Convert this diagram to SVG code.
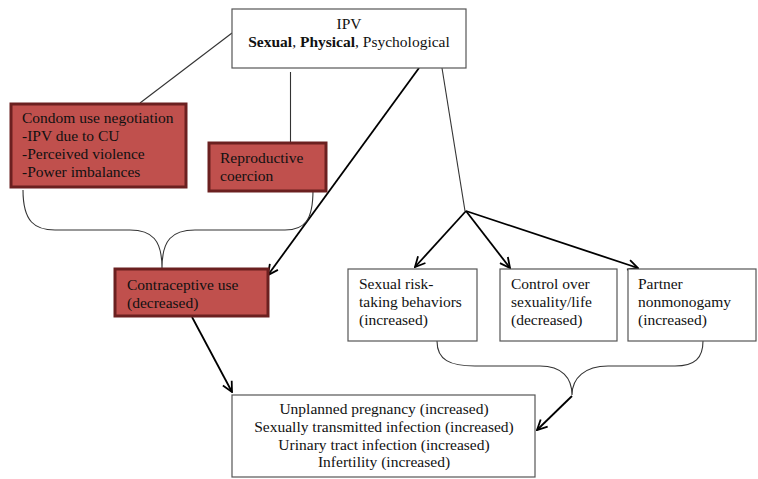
<svg xmlns="http://www.w3.org/2000/svg" width="758" height="479" viewBox="0 0 758 479" font-family="'Liberation Serif', 'Times New Roman', serif">
<defs>
<marker id="ah" viewBox="0 0 12 12" refX="11" refY="6" markerWidth="12" markerHeight="12" markerUnits="userSpaceOnUse" orient="auto">
<polyline points="1,1 11,6 1,11" fill="none" stroke="#000" stroke-width="1.8"/>
</marker>
</defs>
<style>
text{font-family:'Liberation Serif','Times New Roman',serif;font-size:15.5px;fill:#111}
.wb{fill:#fff;stroke:#555;stroke-width:1.2}
.rb{fill:#c0504d;stroke:#6b2020;stroke-width:3}
.thin{fill:none;stroke:#333;stroke-width:1.1}
.arr{fill:none;stroke:#000;stroke-width:1.8;marker-end:url(#ah)}
.c{text-anchor:middle}
</style>
<g id="connectors">
<line class="thin" x1="232" y1="33" x2="140" y2="103"/>
<line class="thin" x1="290.5" y1="72" x2="290.5" y2="142"/>
<line class="thin" x1="442" y1="68" x2="465" y2="211"/>
<line class="arr" x1="419" y1="68" x2="268" y2="275"/>
<path class="thin" d="M23,190 C23,222 35,230 55,230 L130,230 C152,230 162,240 162,268 C162,240 172,230 195,230 L285,230 C305,230 313,220 313,190"/>
<line class="arr" x1="192" y1="317" x2="232" y2="392"/>
<line class="arr" x1="466" y1="211" x2="415" y2="267"/>
<line class="arr" x1="466" y1="211" x2="510" y2="268"/>
<line class="arr" x1="466" y1="211" x2="638" y2="268"/>
<path class="thin" d="M437,341 C437,360 450,366 475,366 L540,366 C562,366 572,378 572,395 C572,378 585,366 608,366 L675,366 C695,366 703,358 703,341"/>
<line class="arr" x1="572" y1="396" x2="537" y2="430"/>
</g>
<g id="ipv">
<rect class="wb" x="232" y="9" width="234" height="59"/>
<text class="c" x="349" y="29">IPV</text>
<text class="c" x="349" y="47"><tspan font-weight="bold">Sexual</tspan>, <tspan font-weight="bold">Physical</tspan>, Psychological</text>
</g>
<g id="condom">
<rect class="rb" x="11" y="104" width="175" height="83"/>
<text x="22" y="123">Condom use negotiation</text>
<text x="22" y="141">-IPV due to CU</text>
<text x="22" y="159">-Perceived violence</text>
<text x="22" y="177">-Power imbalances</text>
</g>
<g id="repro">
<rect class="rb" x="209" y="143" width="117" height="48"/>
<text x="220" y="163">Reproductive</text>
<text x="220" y="181">coercion</text>
</g>
<g id="contra">
<rect class="rb" x="115" y="269" width="153" height="47"/>
<text x="127" y="290">Contraceptive use</text>
<text x="127" y="308">(decreased)</text>
</g>
<g id="risk">
<rect class="wb" x="348" y="269" width="129" height="72"/>
<text x="359" y="289">Sexual risk-</text>
<text x="359" y="307">taking behaviors</text>
<text x="359" y="325">(increased)</text>
</g>
<g id="control">
<rect class="wb" x="500" y="269" width="117" height="72"/>
<text x="511" y="289">Control over</text>
<text x="511" y="307">sexuality/life</text>
<text x="511" y="325">(decreased)</text>
</g>
<g id="partner">
<rect class="wb" x="628" y="269" width="128" height="72"/>
<text x="638" y="289">Partner</text>
<text x="638" y="307">nonmonogamy</text>
<text x="638" y="325">(increased)</text>
</g>
<g id="outcomes">
<rect class="wb" x="232" y="395" width="303" height="82"/>
<text class="c" x="384" y="414">Unplanned pregnancy (increased)</text>
<text class="c" x="384" y="432">Sexually transmitted infection (increased)</text>
<text class="c" x="384" y="450">Urinary tract infection (increased)</text>
<text class="c" x="384" y="467">Infertility (increased)</text>
</g>
</svg>
